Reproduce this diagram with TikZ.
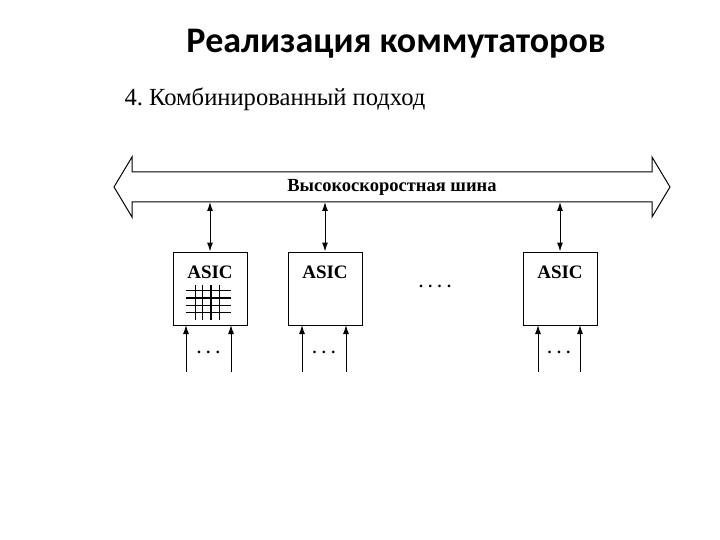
\documentclass[tikz,border=0pt]{standalone}
\usepackage{fontspec}
\setmainfont{Liberation Serif}
\newfontfamily\titlefont{Carlito}
\usetikzlibrary{arrows.meta}
\begin{document}
\begin{tikzpicture}[x=1pt,y=-1pt,
  asicbox/.style={draw,line width=1pt,minimum width=74pt,minimum height=73pt,inner sep=0pt},
  link/.style={line width=1pt,-{Latex[length=9pt,width=6pt]}},
  dlink/.style={line width=1pt,{Latex[length=9pt,width=6pt]}-{Latex[length=9pt,width=6pt]}},
  asiclabel/.style={font=\fontsize{19}{19}\selectfont\bfseries},
  dots/.style={font=\fontsize{16}{16}\selectfont\bfseries}]
\useasboundingbox (0,0) rectangle (720,540);
\node[font=\titlefont\fontsize{36}{36}\selectfont\bfseries] (title) at (396,44) {Реализация коммутаторов};
\node[font=\fontsize{24.6}{24.6}\selectfont,anchor=west] (sub) at (121,99) {4.\ Комбинированный подход};
% bus
\draw[line width=1pt] (114,187) -- (132,157) -- (132,172) -- (652,172) -- (652,157) -- (670,187)
  -- (652,217) -- (652,202) -- (132,202) -- (132,217) -- cycle;
\node[font=\fontsize{18.5}{18.5}\selectfont\bfseries] (bus) at (392,187) {Высокоскоростная шина};
\coordinate (b1) at (210,202);
\coordinate (b2) at (325,202);
\coordinate (b3) at (560,202);
% boxes
\node[asicbox] (a1) at (210,288.5) {};
\node[asicbox] (a2) at (325,288.5) {};
\node[asicbox] (a3) at (560,288.5) {};
\node[asiclabel] (l1) at (210,272) {ASIC};
\node[asiclabel] (l2) at (325,272) {ASIC};
\node[asiclabel] (l3) at (560,272) {ASIC};
\draw[dlink] (b1) -- (a1.north);
\draw[dlink] (b2) -- (a2.north);
\draw[dlink] (b3) -- (a3.north);
% grid
\foreach \y/\w in {290/0.9,298/1.3,305/0.9,312/0.9} \draw[line width=\w pt] (186,\y) -- (231,\y);
\foreach \x/\w in {195/0.9,202/0.9,211/1.3,219/0.9} \draw[line width=\w pt] (\x,285) -- (\x,320);
% inputs
\foreach \n/\xa/\xb in {a1/186/231,a2/302/346,a3/538/580}{
  \coordinate (\n i) at (\xa,372);
  \coordinate (\n j) at (\xb,372);
  \draw[link] (\n i) -- (\xa,325);
  \draw[link] (\n j) -- (\xb,325);
  \node[dots] at ({(\xa+\xb)/2},352) {. . .};
}
\node[font=\fontsize{16}{16}\selectfont\bfseries] (mid) at (435,286) {. . . .};
\end{tikzpicture}
\end{document}
